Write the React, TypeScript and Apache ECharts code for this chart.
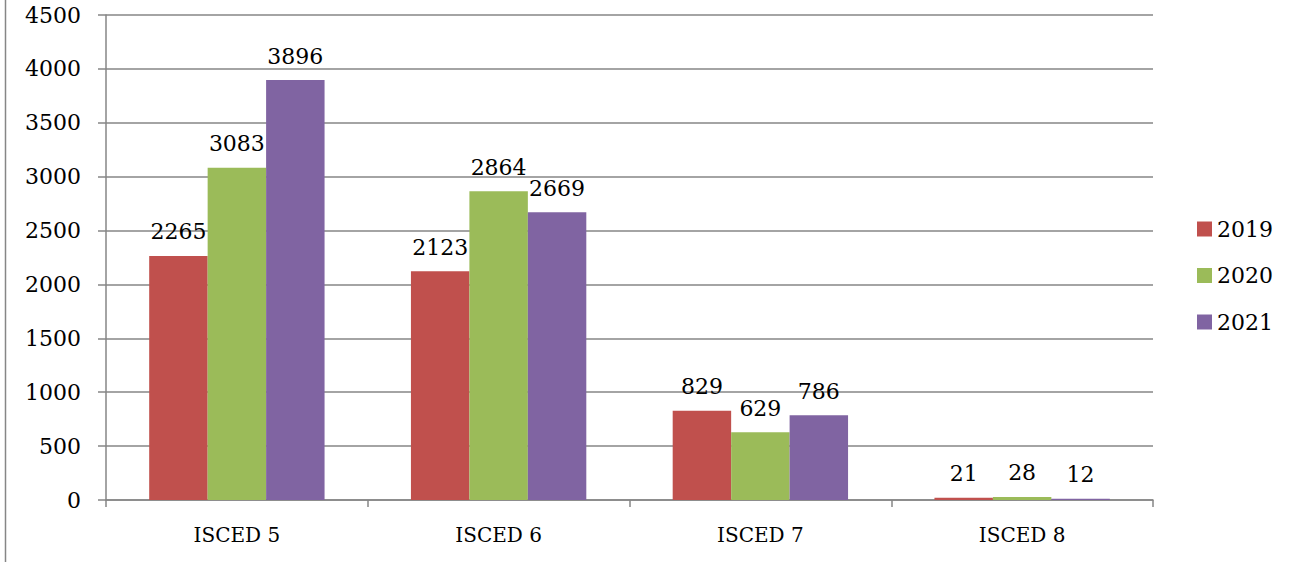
import React, { useEffect, useRef } from "react";
import * as echarts from "echarts";

const categories = ["ISCED 5", "ISCED 6", "ISCED 7", "ISCED 8"];
const seriesNames = ["2019", "2020", "2021"];
const values2019 = [2265, 2123, 829, 21];
const values2020 = [3083, 2864, 629, 28];
const values2021 = [3896, 2669, 786, 12];
const colors = ["#C0504D", "#9BBB59", "#8064A2"];

export default function App() {
  const ref = useRef<HTMLDivElement>(null);
  useEffect(() => {
    if (!ref.current) return;
    const chart = echarts.init(ref.current, null, { renderer: "svg" });
    const font = "DejaVu Serif";
    const data = [values2019, values2020, values2021];
    chart.setOption({
      animation: false,
      textStyle: { fontFamily: font },
      grid: { left: 106, right: 145, top: 15, bottom: 62, containLabel: false },
      legend: {
        orient: "vertical",
        left: 1192,
        top: 213,
        itemWidth: 15,
        itemHeight: 15,
        itemGap: 24.5,
        icon: "rect",
        textStyle: { fontFamily: font, fontSize: 22, color: "#000", padding: [0, 0, 0, 0] },
        data: seriesNames,
      },
      xAxis: {
        type: "category",
        data: categories,
        axisLine: { lineStyle: { color: "#868686", width: 1.5 } },
        axisTick: { show: true, length: 7, alignWithLabel: false, lineStyle: { color: "#868686", width: 1.5 } },
        axisLabel: { fontFamily: font, fontSize: 20, color: "#000", margin: 25 },
      },
      yAxis: {
        type: "value",
        min: 0,
        max: 4500,
        interval: 500,
        axisLine: { show: true, lineStyle: { color: "#868686", width: 1.5 } },
        axisTick: { show: true, length: 8, lineStyle: { color: "#868686", width: 1.5 } },
        splitLine: { lineStyle: { color: "#868686", width: 1.5 } },
        axisLabel: {
          fontFamily: font,
          fontSize: 22,
          color: "#000",
          margin: 25,
          formatter: (v: number) => String(v),
        },
      },
      graphic: [
        {
          type: "line",
          shape: { x1: 5.5, y1: 0, x2: 5.5, y2: 562 },
          style: { stroke: "#868686", lineWidth: 1.5 },
        },
      ],
      series: seriesNames.map((name, i) => ({
        name,
        type: "bar",
        data: data[i],
        barGap: "0%",
        barCategoryGap: "33%",
        itemStyle: { color: colors[i] },
        label: {
          show: true,
          position: "top",
          distance: 13,
          fontFamily: font,
          fontSize: 22,
          color: "#000",
        },
      })),
    });
    return () => chart.dispose();
  }, []);
  return (
    <div
      ref={ref}
      style={{ position: "fixed", left: 0, top: 0, width: 1298, height: 562, background: "#fff" }}
    />
  );
}
